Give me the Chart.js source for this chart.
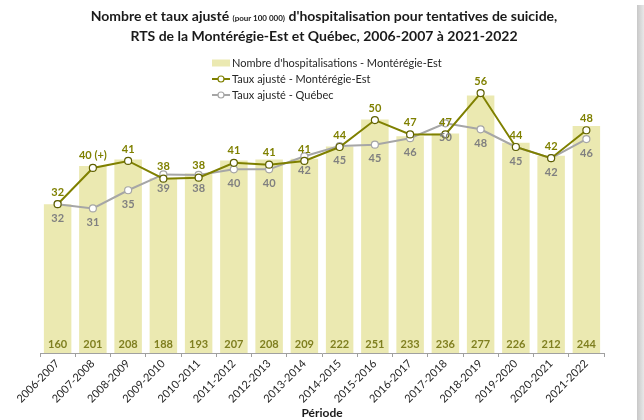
<!DOCTYPE html>
<html>
<head>
<meta charset="utf-8">
<script src="https://cdn.jsdelivr.net/npm/chart.js@4.4.1/dist/chart.umd.min.js"></script>
<style>
  body { margin: 0; background: #fff; }
  #wrap { position: relative; width: 644px; height: 420px; overflow: hidden; }
  #ombre { position: absolute; left: 637px; top: 5px; width: 7px; height: 415px;
           background: linear-gradient(to right, #c8c8c8, #e8e8e8); }
  #titre { position: absolute; left: 2px; top: 7px; width: 644px; text-align: center;
           font-family: Lato, "Liberation Sans", sans-serif; font-weight: bold; font-size: 14px;
           line-height: 18px; color: #1a1a1a; }
  #titre span { font-size: 8px; }
  canvas { position: absolute; left: 0; top: 0; }
</style>
</head>
<body>
<div id="wrap">
  <canvas id="graphique" width="644" height="420"></canvas>
  <div id="titre">Nombre et taux ajusté <span>(pour 100 000)</span> d'hospitalisation pour tentatives de suicide,<br>RTS de la Montérégie-Est et Québec, 2006-2007 à 2021-2022</div>
  <div id="ombre"></div>
</div>
<script>
const periodes = ["2006-2007", "2007-2008", "2008-2009", "2009-2010", "2010-2011", "2011-2012",
  "2012-2013", "2013-2014", "2014-2015", "2015-2016", "2016-2017", "2017-2018",
  "2018-2019", "2019-2020", "2020-2021", "2021-2022"]
const hospitalisations = [160, 201, 208, 188, 193, 207, 208, 209, 222, 251, 233, 236, 277, 226, 212, 244]
const tauxMonteregie = [32, 39.8, 41.3, 37.5, 37.7, 40.9, 40.5, 41.3, 44.3, 50.1, 47, 47, 55.9, 44.3, 41.9, 47.9]
const tauxQuebec = [32, 31.1, 35, 38.4, 38.3, 39.5, 39.5, 42.3, 44.5, 44.8, 46.2, 49.4, 48.1, 44.3, 41.9, 46]
const etiquettesMonteregie = ["32", "40 (+)", "41", "38", "38", "41", "41", "41", "44", "50", "47", "47", "56", "44", "42", "48"]
const etiquettesQuebec = ["32", "31", "35", "39", "38", "40", "40", "42", "45", "45", "46", "50", "48", "45", "42", "46"]

const police = 'Lato, "Liberation Sans", sans-serif'
const olive = "#7f8000"
const gris = "#a6a6a6"
const beige = "#ebe9b1"

// etiquettes de donnees (pas de plugin datalabels)
const etiquettesPlugin = {
  id: "etiquettes",
  afterDatasetsDraw(chart) {
    const ctx = chart.ctx
    ctx.save()
    ctx.font = "bold 11px " + police
    ctx.textAlign = "center"
    ctx.textBaseline = "middle"
    chart.getDatasetMeta(0).data.forEach((bar, i) => {
      ctx.fillStyle = "#7f7f20"
      ctx.fillText(hospitalisations[i], bar.x, chart.chartArea.bottom - 9)
    })
    chart.getDatasetMeta(2).data.forEach((pt, i) => {
      ctx.fillStyle = "#808080"
      ctx.fillText(etiquettesQuebec[i], pt.x, pt.y + 14)
    })
    chart.getDatasetMeta(1).data.forEach((pt, i) => {
      ctx.fillStyle = olive
      ctx.fillText(etiquettesMonteregie[i], pt.x, pt.y - 12)
    })
    ctx.restore()
  }
}

const legendePlugin = {
  id: "legende",
  afterDraw(chart) {
    const ctx = chart.ctx
    const x = 212
    const lignes = [
      { texte: "Nombre d'hospitalisations - Montérégie-Est", type: "barre", couleur: beige },
      { texte: "Taux ajusté - Montérégie-Est", type: "ligne", couleur: olive },
      { texte: "Taux ajusté - Québec", type: "ligne", couleur: gris }
    ]
    ctx.save()
    ctx.font = "11px " + police
    ctx.textBaseline = "middle"
    lignes.forEach((l, i) => {
      const y = 63 + i * 16
      if (l.type == "barre") {
        ctx.fillStyle = l.couleur
        ctx.fillRect(x, y - 3.5, 18, 7)
      } else {
        ctx.strokeStyle = l.couleur
        ctx.lineWidth = 2
        ctx.beginPath()
        ctx.moveTo(x, y)
        ctx.lineTo(x + 18, y)
        ctx.stroke()
        ctx.beginPath()
        ctx.arc(x + 9, y, 3, 0, Math.PI * 2)
        ctx.fillStyle = "#fff"
        ctx.fill()
        ctx.lineWidth = 1.2
        ctx.stroke()
      }
      ctx.fillStyle = "#262626"
      ctx.fillText(l.texte, x + 20, y)
    })
    ctx.restore()
  }
}

new Chart(document.getElementById("graphique"), {
  data: {
    labels: periodes,
    datasets: [
      {
        type: "line",
        label: "Taux ajusté - Québec",
        data: tauxQuebec,
        yAxisID: "yTaux",
        borderColor: gris,
        borderWidth: 2,
        pointRadius: 3.5,
        pointBackgroundColor: "#fff",
        pointBorderColor: gris,
        pointBorderWidth: 1.2,
        tension: 0,
        order: 1
      },
      {
        type: "line",
        label: "Taux ajusté - Montérégie-Est",
        data: tauxMonteregie,
        yAxisID: "yTaux",
        borderColor: olive,
        borderWidth: 2,
        pointRadius: 3.5,
        pointBackgroundColor: "#fff",
        pointBorderColor: "#5f6000",
        pointBorderWidth: 1.2,
        tension: 0,
        order: 0
      },
      {
        type: "bar",
        label: "Nombre d'hospitalisations - Montérégie-Est",
        data: hospitalisations,
        yAxisID: "yNombre",
        backgroundColor: beige,
        categoryPercentage: 0.78,
        barPercentage: 1,
        order: 2
      }
    ].reverse()
  },
  options: {
    responsive: false,
    animation: false,
    layout: { padding: { left: 40, right: 40, top: 74, bottom: 0 } },
    plugins: { legend: { display: false }, tooltip: { enabled: false } },
    scales: {
      x: {
        offset: true,
        grid: { offset: true, drawOnChartArea: false, color: "#a0a0a0", tickLength: 4 },
        border: { color: "#a0a0a0" },
        ticks: { maxRotation: 45, minRotation: 45, color: "#262626", font: { family: police, size: 11 }, padding: 0 },
        title: { display: true, text: "Période", color: "#1a1a1a", font: { family: police, size: 12, weight: "bold" }, padding: 0 },
        afterFit: s => { s.height = 67 }
      },
      yNombre: { display: false, min: 0, max: 300 },
      yTaux: { display: false, min: 0, max: 60 }
    }
  },
  plugins: [etiquettesPlugin, legendePlugin]
})
</script>
</body>
</html>
